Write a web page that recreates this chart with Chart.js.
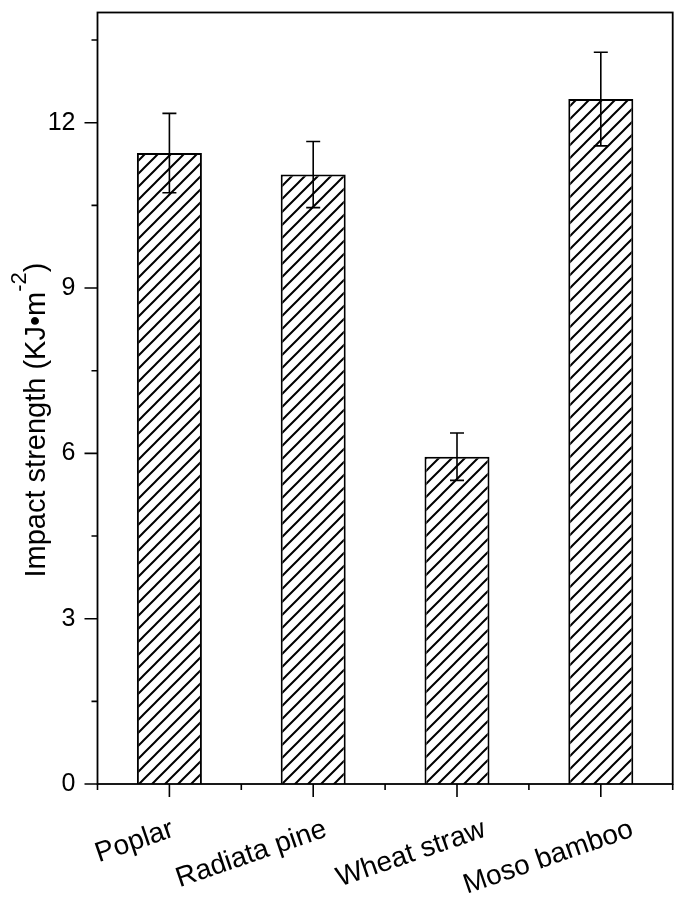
<!DOCTYPE html>
<html>
<head>
<meta charset="utf-8">
<script src="https://cdn.jsdelivr.net/npm/chart.js@4"></script>
<style>
  html, body { margin: 0; padding: 0; background: #fff; }
  #wrap { width: 683px; height: 899px; position: relative; }
</style>
</head>
<body>
<div id="wrap"><canvas id="c"></canvas></div>
<script>
const categories = ['Poplar', 'Radiata pine', 'Wheat straw', 'Moso bamboo'];
const values = [11.45, 11.06, 5.94, 12.43];
const errors = [0.72, 0.60, 0.43, 0.85];
const yMajorTicks = [0, 3, 6, 9, 12];
const yMinorTicks = [1.5, 4.5, 7.5, 10.5, 13.5];
const yTitleMain = 'Impact strength (KJ\u2022m';
const yTitleSup = '-2';
const yTitleEnd = ')';

const FONT = '"Liberation Sans", Arial, Helvetica, sans-serif';
// horizontal shift of each rotated category label's right end from its tick
const labelShift = [6, 15, 30, 34];

function makeHatch() {
  const s = 13;
  const c = document.createElement('canvas');
  c.width = s; c.height = s;
  const g = c.getContext('2d');
  g.fillStyle = '#fff';
  g.fillRect(0, 0, s, s);
  g.strokeStyle = '#000';
  g.lineWidth = 2;
  g.beginPath();
  g.moveTo(-2, s + 2); g.lineTo(s + 2, -2);
  g.moveTo(-2, 2); g.lineTo(2, -2);
  g.moveTo(s - 2, s + 2); g.lineTo(s + 2, s - 2);
  g.stroke();
  return g.createPattern(c, 'repeat');
}

const framePlugin = {
  id: 'frameTicks',
  afterDatasetsDraw(chart) {
    const ctx = chart.ctx;
    const a = chart.chartArea;
    const xs = chart.scales.x, ys = chart.scales.y;
    ctx.save();
    // error bars
    ctx.strokeStyle = '#000';
    ctx.lineWidth = 1.6;
    values.forEach((v, i) => {
      const x = xs.getPixelForValue(i);
      const yt = ys.getPixelForValue(v + errors[i]);
      const yb = ys.getPixelForValue(v - errors[i]);
      ctx.beginPath();
      ctx.moveTo(x, yt); ctx.lineTo(x, yb);
      ctx.moveTo(x - 7, yt); ctx.lineTo(x + 7, yt);
      ctx.moveTo(x - 7, yb); ctx.lineTo(x + 7, yb);
      ctx.stroke();
    });
    // frame
    ctx.lineWidth = 1.8;
    ctx.strokeRect(a.left, a.top, a.right - a.left, a.bottom - a.top);
    // y ticks
    ctx.lineWidth = 1.6;
    ctx.beginPath();
    yMajorTicks.forEach(v => {
      const y = ys.getPixelForValue(v);
      ctx.moveTo(a.left - 13, y); ctx.lineTo(a.left, y);
    });
    yMinorTicks.forEach(v => {
      const y = ys.getPixelForValue(v);
      ctx.moveTo(a.left - 6, y); ctx.lineTo(a.left, y);
    });
    // x ticks
    const half = (xs.getPixelForValue(1) - xs.getPixelForValue(0)) / 2;
    categories.forEach((c, i) => {
      const x = xs.getPixelForValue(i);
      ctx.moveTo(x, a.bottom); ctx.lineTo(x, a.bottom + 13);
      ctx.moveTo(x - half, a.bottom); ctx.lineTo(x - half, a.bottom + 6);
      if (i === categories.length - 1) {
        ctx.moveTo(x + half, a.bottom); ctx.lineTo(x + half, a.bottom + 6);
      }
    });
    ctx.stroke();
    // rotated category labels
    ctx.fillStyle = '#000';
    ctx.font = '28px ' + FONT;
    ctx.textAlign = 'right';
    ctx.textBaseline = 'alphabetic';
    categories.forEach((c, i) => {
      const x = xs.getPixelForValue(i) + labelShift[i];
      ctx.save();
      ctx.translate(x, a.bottom + 52);
      ctx.rotate(-19 * Math.PI / 180);
      ctx.fillText(c, 0, 0);
      ctx.restore();
    });
    // y title with superscript
    const mainF = '29px ' + FONT, supF = '22px ' + FONT;
    ctx.font = mainF;
    const w1 = ctx.measureText(yTitleMain).width;
    const w3 = ctx.measureText(yTitleEnd).width;
    ctx.font = supF;
    const w2 = ctx.measureText(yTitleSup).width;
    const total = w1 + w2 + w3;
    const cy = 420, bx = 45;
    ctx.translate(bx, cy + total / 2);
    ctx.rotate(-Math.PI / 2);
    ctx.textAlign = 'left';
    ctx.font = mainF;
    ctx.fillText(yTitleMain, 0, 0);
    ctx.font = supF;
    ctx.fillText(yTitleSup, w1, -19);
    ctx.font = mainF;
    ctx.fillText(yTitleEnd, w1 + w2, 0);
    ctx.restore();
  }
};

new Chart(document.getElementById('c'), {
  type: 'bar',
  data: {
    labels: categories,
    datasets: [{
      data: values,
      backgroundColor: makeHatch(),
      borderColor: '#000',
      borderWidth: 2,
      barPercentage: 0.452,
      categoryPercentage: 1.0
    }]
  },
  options: {
    responsive: true,
    maintainAspectRatio: false,
    animation: false,
    layout: { padding: { top: 12.5, right: 10.3, left: 0, bottom: 0 } },
    plugins: { legend: { display: false }, tooltip: { enabled: false } },
    scales: {
      x: {
        offset: true,
        grid: { display: false, drawTicks: false },
        border: { display: false },
        ticks: { display: false },
        afterFit(scale) {
          scale.height = 115;
          scale.paddingLeft = 0; scale.paddingRight = 0;
          scale.paddingTop = 0; scale.paddingBottom = 0;
        }
      },
      y: {
        min: 0,
        max: 14,
        grid: { display: false, drawTicks: false },
        border: { display: false },
        ticks: {
          color: '#000',
          font: { family: FONT, size: 25 },
          padding: 22
        },
        afterBuildTicks(scale) { scale.ticks = yMajorTicks.map(v => ({ value: v })); },
        afterFit(scale) {
          scale.width = 97.5;
          scale.paddingTop = 0; scale.paddingBottom = 0;
          scale.paddingLeft = 0; scale.paddingRight = 0;
        }
      }
    }
  },
  plugins: [framePlugin]
});
</script>
</body>
</html>
